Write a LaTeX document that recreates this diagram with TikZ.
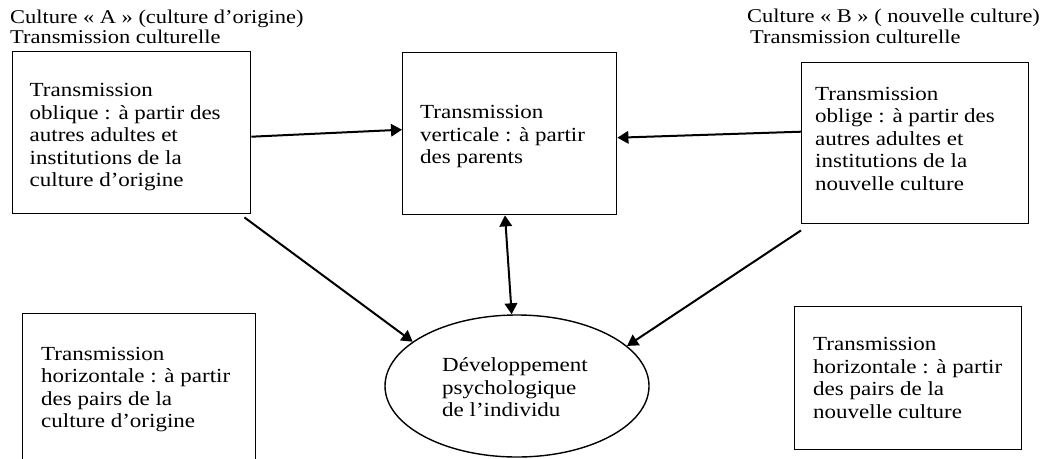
\documentclass[tikz,border=0pt]{standalone}
\usepackage{fontspec}
\setmainfont{Liberation Serif}[FakeStretch=1.15]
\usetikzlibrary{arrows.meta,shapes.geometric,calc}
\begin{document}
\begin{tikzpicture}[x=1pt,y=-1pt,
  box/.style={draw, line width=1.4pt, rectangle, inner sep=0pt, anchor=north west},
  txt/.style={inner sep=0pt, anchor=north west, align=left, font=\fontsize{20}{22.5}\selectfont},
  hdr/.style={inner sep=0pt, anchor=north west, align=left, font=\fontsize{19.5}{20.5}\selectfont},
  conn/.style={line width=2pt, -{Triangle[length=11pt,width=12.5pt]}},
  dconn/.style={line width=2pt, {Triangle[length=11pt,width=12.5pt]}-{Triangle[length=11pt,width=12.5pt]}},
]
\useasboundingbox (0,0) rectangle (1051,458);
\clip (0,0) rectangle (1051,458);

% headers
\node[hdr] (hA) at (10,8) {\rule{0pt}{15pt}Culture « A » (culture d’origine)\\Transmission culturelle};
\node[hdr] (hB) at (747,7.3) {\rule{0pt}{15pt}Culture « B » ( nouvelle culture)\\\hspace*{3pt}Transmission culturelle};

% boxes
\node[box, minimum width=238pt, minimum height=162pt] (A) at (12,51) {};
\node[box, minimum width=214pt, minimum height=162pt] (C) at (402,52) {};
\node[box, minimum width=227pt, minimum height=161pt] (R) at (801,62) {};
\node[box, minimum width=233pt, minimum height=160pt] (BL) at (22,313) {};
\node[box, minimum width=227pt, minimum height=143pt] (BR) at (794,306) {};
\node[draw, ellipse, line width=1.4pt, minimum width=264pt, minimum height=142pt, inner sep=0pt] (E) at (517,386) {};

% texts
\node[txt] (tA) at (29.5,81.7) {\rule{0pt}{15pt}Transmission\\oblique : à partir des\\autres adultes et\\institutions de la\\culture d’origine};
\node[txt] (tC) at (420,103.3) {\rule{0pt}{15pt}Transmission\\verticale : à partir\\des parents};
\node[txt] (tR) at (815,85) {\rule{0pt}{15pt}Transmission\\oblige : à partir des\\autres adultes et\\institutions de la\\nouvelle culture};
\node[txt] (tBL) at (41,345) {\rule{0pt}{15pt}Transmission\\horizontale : à partir\\des pairs de la\\culture d’origine};
\node[txt] (tBR) at (813,335.7) {\rule{0pt}{15pt}Transmission\\horizontale : à partir\\des pairs de la\\nouvelle culture};
\node[txt] (tE) at (442,356.7) {\rule{0pt}{15pt}Développement\\psychologique\\de l’individu};

% connectors
\draw[conn] ([yshift=-4pt]A.east) -- ([yshift=4pt]C.west);
\draw[conn] ([yshift=11.5pt]R.west) -- ([yshift=-4pt]C.east);
\draw[dconn] ([xshift=-4.7pt]C.south) -- ([xshift=-5.3pt]E.north);
\draw[conn] ([xshift=-7pt,yshift=-3pt]A.south east) -- (E.157.6);
\draw[conn] ([yshift=-6pt]R.south west) -- (E.20.8);
\end{tikzpicture}
\end{document}
